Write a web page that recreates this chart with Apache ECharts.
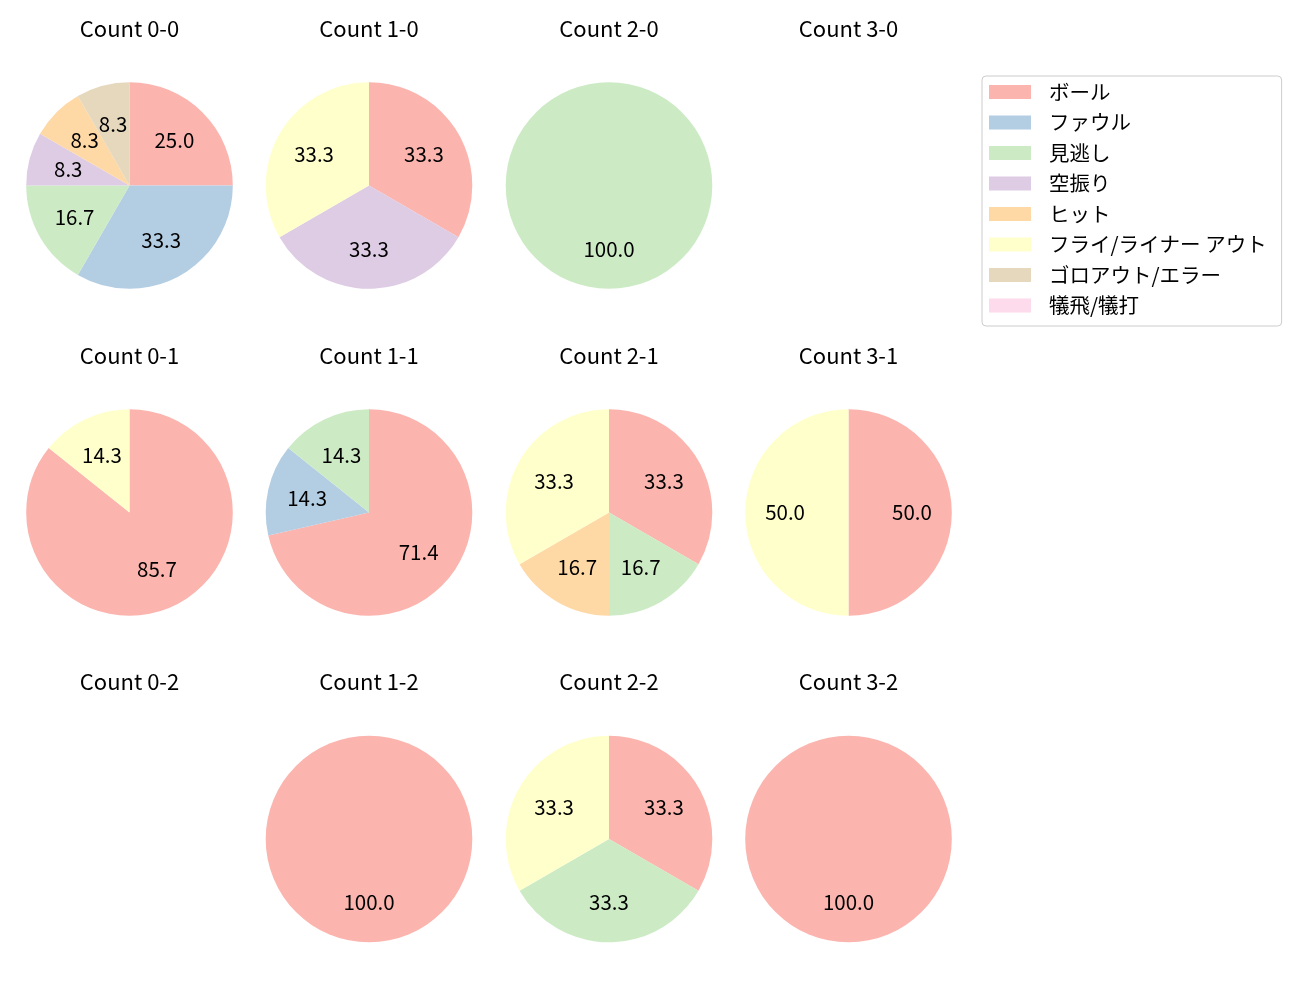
<!DOCTYPE html>
<html>
<head>
<meta charset="utf-8">
<script src="https://cdn.jsdelivr.net/npm/echarts@6/dist/echarts.min.js"></script>
<style>html,body{margin:0;padding:0;background:#fff;}#main{width:1300px;height:1000px;}</style>
</head>
<body>
<div id="main"></div>
<script>
// ---- data ----
const categories = ['ボール','ファウル','見逃し','空振り','ヒット','フライ/ライナー アウト','ゴロアウト/エラー','犠飛/犠打'];
const palette = ['#fbb4ae','#b3cde3','#ccebc5','#decbe4','#fed9a6','#ffffcc','#e5d8bd','#fddaec'];
const countTitles = ['Count 0-0','Count 1-0','Count 2-0','Count 3-0',
                     'Count 0-1','Count 1-1','Count 2-1','Count 3-1',
                     'Count 0-2','Count 1-2','Count 2-2','Count 3-2'];
const c00 = [3,4,2,1,1,0,1,0];
const c10 = [1,0,0,1,0,1,0,0];
const c20 = [0,0,1,0,0,0,0,0];
const c30 = [0,0,0,0,0,0,0,0];
const c01 = [6,0,0,0,0,1,0,0];
const c11 = [5,1,1,0,0,0,0,0];
const c21 = [2,0,1,0,1,2,0,0];
const c31 = [1,0,0,0,0,1,0,0];
const c02 = [0,0,0,0,0,0,0,0];
const c12 = [1,0,0,0,0,0,0,0];
const c22 = [1,0,1,0,0,1,0,0];
const c32 = [1,0,0,0,0,0,0,0];
const countValues = [c00,c10,c20,c30,c01,c11,c21,c31,c02,c12,c22,c32];

// ---- layout ----
const colX = [129.5, 369, 609, 848.5];
const rowY = [185.5, 512.5, 839];
const titleY = [28.5, 355.5, 682];
const R = 103.3;
const FONT = '"Noto Sans CJK JP", "Noto Sans", sans-serif';

const titles = [];
const series = [];

// dummy series for the legend (holds all category names and colours)
series.push({
  type: 'pie', center: [-500, -500], radius: [0, 0], silent: true,
  label: {show: false}, labelLine: {show: false},
  data: categories.map((n, i) => ({name: n, value: 1, itemStyle: {color: palette[i]}}))
});

countTitles.forEach((t, k) => {
  const col = k % 4, row = Math.floor(k / 4);
  titles.push({
    text: t, left: colX[col], top: titleY[row], textAlign: 'center', textVerticalAlign: 'middle',
    padding: 0,
    textStyle: {fontFamily: FONT, fontSize: 22, fontWeight: 'normal', color: '#000'}
  });
  const vals = countValues[k];
  const total = vals.reduce((a, b) => a + b, 0);
  if (total === 0) return;
  const data = [];
  vals.forEach((v, i) => { if (v > 0) data.push({name: categories[i], value: v, itemStyle: {color: palette[i]}}); });
  series.push({
    type: 'pie', center: [colX[col], rowY[row]], radius: [0, R],
    startAngle: 90, clockwise: true, silent: true, animation: false,
    avoidLabelOverlap: false,
    itemStyle: {borderWidth: 0},
    label: {show: false}, labelLine: {show: false},
    emphasis: {disabled: true},
    data: data
  });
  series.push({
    type: 'pie', center: [colX[col], rowY[row]], radius: [R * 0.17, R],
    startAngle: 90, clockwise: true, silent: true, animation: false,
    avoidLabelOverlap: false,
    itemStyle: {color: 'rgba(0,0,0,0)', borderWidth: 0},
    label: {
      show: true, position: 'inside', color: '#000', fontFamily: FONT, fontSize: 20.5,
      padding: [0, 0, 4, 0],
      formatter: p => (p.value / total * 100).toFixed(1)
    },
    labelLine: {show: false},
    emphasis: {disabled: true},
    data: data.map(d => ({name: d.name, value: d.value, itemStyle: {color: 'rgba(0,0,0,0)'}}))
  });
});

const chart = echarts.init(document.getElementById('main'));
chart.setOption({
  backgroundColor: '#fff',
  animation: false,
  title: titles,
  legend: {
    data: categories,
    orient: 'vertical', left: 982, top: 76,
    padding: [5, 15, 9.5, 7],
    itemWidth: 42, itemHeight: 14, itemGap: 8.5,
    icon: 'rect',
    borderColor: '#cccccc', borderWidth: 1, borderRadius: 4,
    backgroundColor: '#fff',
    selectedMode: false,
    textStyle: {fontFamily: FONT, fontSize: 20.5, color: '#000', lineHeight: 22, padding: [0, 0, 0, 13]}
  },
  series: series
});
</script>
</body>
</html>
